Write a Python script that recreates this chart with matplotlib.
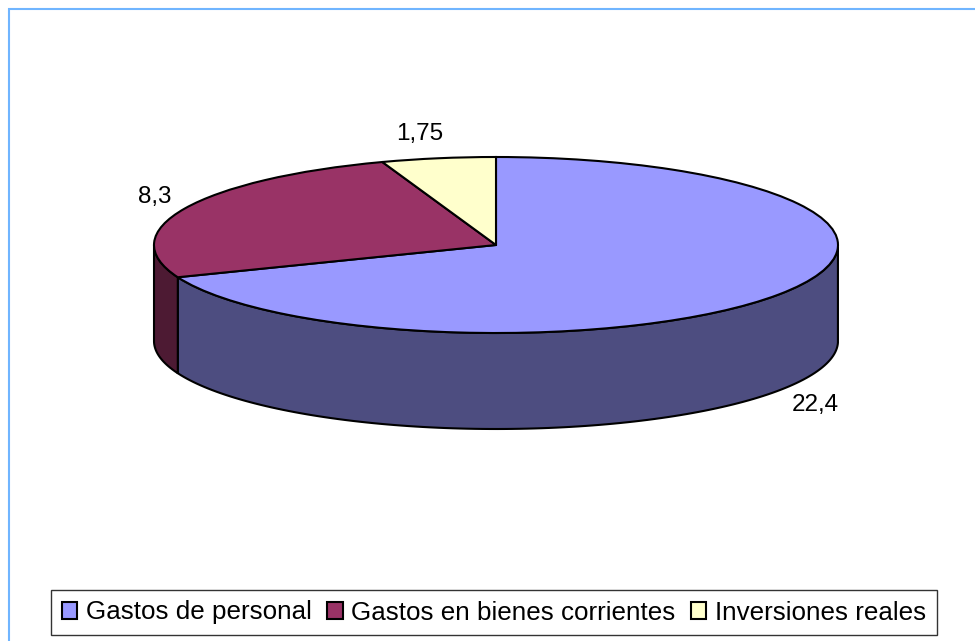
import numpy as np
import matplotlib
matplotlib.use("Agg")
import matplotlib.pyplot as plt
from matplotlib.patches import Patch, Polygon
from matplotlib.lines import Line2D

categorias = ["Gastos de personal", "Gastos en bienes corrientes", "Inversiones reales"]
valores = [22.4, 8.3, 1.75]
etiquetas = ["22,4", "8,3", "1,75"]
colores = ["#9999FF", "#993366", "#FFFFCC"]
colores_lado = ["#4D4D80", "#4D1A33", "#808066"]

W, H = 975, 641
plt.rcParams["font.family"] = ["Liberation Sans", "DejaVu Sans"]

fig = plt.figure(figsize=(W / 100, H / 100), dpi=100, facecolor="white")

# marco azul: solo arriba y a la izquierda
fig.add_artist(Line2D([8.5 / W, 8.5 / W, 1], [0, 1 - 8.5 / H, 1 - 8.5 / H], transform=fig.transFigure,
                      color="#70B5FF", lw=1.5, solid_joinstyle="miter"))

# elipse en pixeles
cx, cy, rx, ry, fondo = 496, 245, 342, 88, 96
ax = fig.add_axes([(cx - rx) / W, 1 - (cy + ry + fondo) / H, 2 * rx / W, (2 * ry + fondo) / H])

wedges, _ = ax.pie(valores, colors=colores, startangle=90, counterclock=False, radius=1,
                   wedgeprops=dict(ec="black", lw=1.5, zorder=3))
ax.set_aspect("auto")
ax.set_xlim(-1, 1)
ax.set_ylim(-1 - fondo / ry, 1)
ax.axis("off")
for w in wedges:
    w.set_clip_on(False)

# lados del pastel, solo la parte de delante
prof = fondo / ry
angulos = 90 - np.cumsum([0] + valores) / sum(valores) * 360
for i in range(len(valores)):
    a1, a0 = angulos[i], angulos[i + 1]
    t = np.linspace(a0, a1, 200)
    t = t[np.sin(np.radians(t)) <= 0]
    if len(t) < 2:
        continue
    x = np.cos(np.radians(t))
    y = np.sin(np.radians(t))
    pts = np.vstack([np.c_[x, y], np.c_[x[::-1], y[::-1] - prof]])
    ax.add_patch(Polygon(pts, closed=True, fc=colores_lado[i], ec="black", lw=1.5, zorder=2, clip_on=False))

# etiquetas de valores
pos_etiquetas = [(815, 405), (155, 197), (420, 134)]
for txt, (px, py) in zip(etiquetas, pos_etiquetas):
    fig.text(px / W, 1 - py / H, txt, fontsize=17.5, ha="center", va="center")

handles = [Patch(fc=c, ec="black", lw=1.5) for c in colores]
leg = fig.legend(handles, categorias, loc="center", bbox_to_anchor=(494 / W, 1 - 612.5 / H), ncol=3,
                 fontsize=18.7, frameon=True, fancybox=False, edgecolor="#333333", framealpha=1,
                 handlelength=0.6, handleheight=0.6, handletextpad=0.33, columnspacing=0.59,
                 borderpad=0.4, borderaxespad=0)
leg.get_frame().set_linewidth(1)

fig.savefig("out.png", dpi=100)
